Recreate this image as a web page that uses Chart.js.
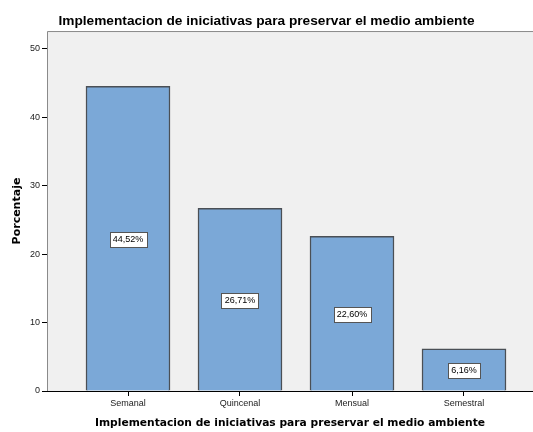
<!DOCTYPE html>
<html>
<head>
<meta charset="utf-8">
<script src="https://cdn.jsdelivr.net/npm/chart.js@4"></script>
<style>
html,body{margin:0;padding:0;background:#fff;}
#wrap{width:533px;height:432px;}
</style>
</head>
<body>
<div id="wrap"><canvas id="c" width="533" height="432"></canvas></div>
<script>
const categories = ["Semanal", "Quincenal", "Mensual", "Semestral"];
const values = [44.52, 26.71, 22.60, 6.16];
const valueLabels = ["44,52%", "26,71%", "22,60%", "6,16%"];
const yTicks = [0, 10, 20, 30, 40, 50];
const titleText = "Implementacion de iniciativas para preservar el medio ambiente";

const points = values.map((v, i) => ({x: i + 1, y: v}));

const plotBg = {
  id: 'plotBg',
  beforeDraw(chart) {
    const {ctx, chartArea: a} = chart;
    ctx.save();
    ctx.fillStyle = '#F0F0F0';
    ctx.fillRect(a.left, a.top, a.right - a.left, a.bottom - a.top);
    ctx.strokeStyle = '#8a8a8a';
    ctx.lineWidth = 1;
    ctx.beginPath();
    ctx.moveTo(a.left + 0.5, a.bottom);
    ctx.lineTo(a.left + 0.5, a.top + 0.5);
    ctx.lineTo(a.right, a.top + 0.5);
    ctx.stroke();
    ctx.restore();
  }
};

const boxLabels = {
  id: 'boxLabels',
  afterDatasetsDraw(chart) {
    const {ctx} = chart;
    const meta = chart.getDatasetMeta(0);
    const ys = chart.scales.y;
    ctx.save();
    ctx.font = '9px "Liberation Sans", Arial, sans-serif';
    ctx.textAlign = 'center';
    ctx.textBaseline = 'middle';
    meta.data.forEach((bar, i) => {
      const txt = valueLabels[i];
      const cy = Math.round(ys.getPixelForValue(values[i] / 2));
      const w = Math.ceil(ctx.measureText(txt).width) + 6;
      const h = 15;
      const x0 = Math.round(bar.x - w / 2) + 0.5;
      const y0 = Math.round(cy - h / 2) + 0.5;
      ctx.fillStyle = '#ffffff';
      ctx.fillRect(x0, y0, w, h);
      ctx.strokeStyle = '#555555';
      ctx.lineWidth = 1;
      ctx.strokeRect(x0, y0, w, h);
      ctx.fillStyle = '#000000';
      ctx.fillText(txt, bar.x, cy + 0.5);
    });
    ctx.restore();
  }
};

new Chart(document.getElementById('c'), {
  type: 'bar',
  data: {
    datasets: [{
      data: points,
      backgroundColor: '#7BA8D7',
      borderColor: '#4a4f55',
      borderWidth: 1.5,
      barThickness: 84
    }]
  },
  options: {
    responsive: false,
    animation: false,
    devicePixelRatio: 1,
    layout: {padding: {left: 0, right: 0, top: 0, bottom: 0}},
    plugins: {
      legend: {display: false},
      tooltip: {enabled: false},
      title: {
        display: true,
        text: titleText,
        color: '#000',
        font: {family: '"Liberation Sans", Arial, sans-serif', size: 13.7, weight: 'bold', lineHeight: 1.2},
        padding: {top: 13, bottom: 1.6}
      }
    },
    scales: {
      x: {
        type: 'linear',
        min: 1 - 81 / 112,
        max: 4 + 69 / 112,
        offset: false,
        afterBuildTicks(scale) {
          scale.ticks = categories.map((c, i) => ({value: i + 1}));
        },
        afterFit(scale) { scale.height = 41; },
        ticks: {
          callback: (v) => categories[Math.round(v) - 1] || '',
          color: '#222',
          font: {family: '"Liberation Sans", Arial, sans-serif', size: 9},
          padding: 2,
          maxRotation: 0,
          autoSkip: false
        },
        grid: {
          display: true,
          offset: false,
          drawOnChartArea: false,
          drawTicks: true,
          tickLength: 5,
          tickColor: '#000'
        },
        border: {display: true, color: '#000', width: 1},
        title: {
          display: true,
          text: titleText,
          color: '#000',
          font: {family: '"DejaVu Sans", sans-serif', size: 10.7, weight: 'bold', lineHeight: 1.2},
          padding: {top: 0, bottom: 2}
        }
      },
      y: {
        min: 0,
        max: 52.6,
        afterBuildTicks(scale) {
          scale.ticks = yTicks.map(v => ({value: v}));
        },
        afterFit(scale) { scale.width = 47; },
        ticks: {
          color: '#222',
          font: {family: '"Liberation Sans", Arial, sans-serif', size: 9},
          padding: 2
        },
        grid: {
          display: true,
          drawOnChartArea: false,
          drawTicks: true,
          tickLength: 5,
          tickColor: '#000'
        },
        border: {display: false},
        title: {
          display: true,
          text: 'Porcentaje',
          color: '#000',
          font: {family: '"DejaVu Sans", sans-serif', size: 11, weight: 'bold', lineHeight: 1.2},
          padding: {top: 11, bottom: 0}
        }
      }
    }
  },
  plugins: [plotBg, boxLabels]
});
</script>
</body>
</html>
